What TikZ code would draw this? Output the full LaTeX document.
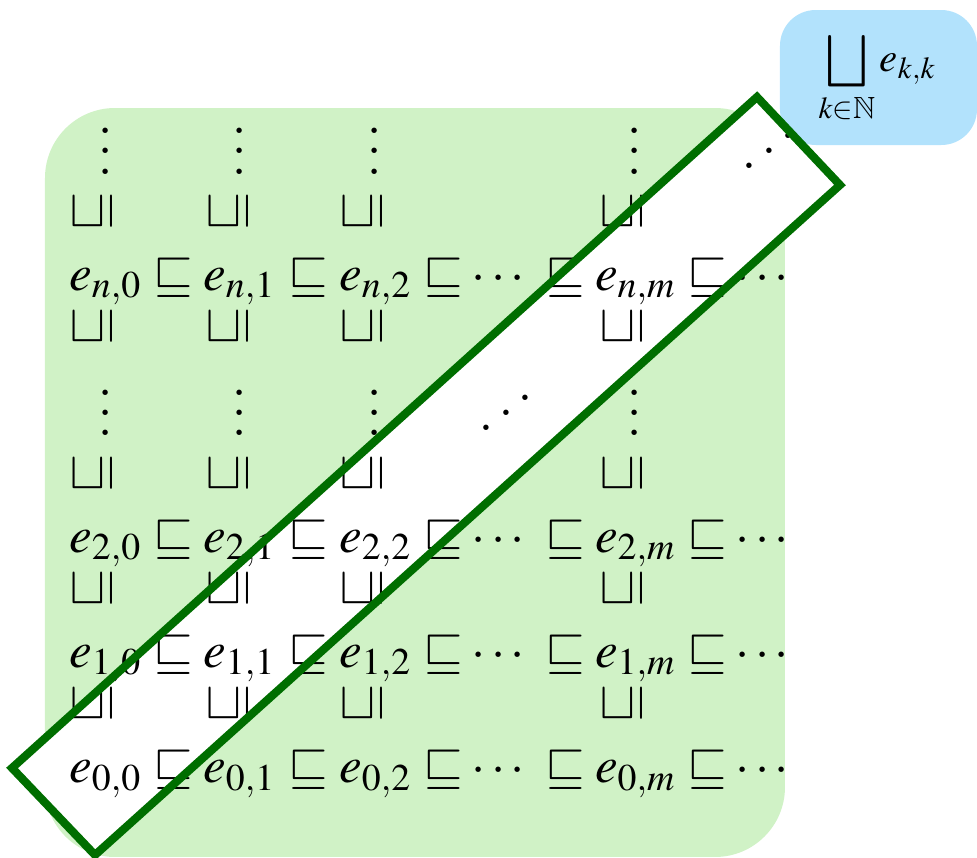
\documentclass[tikz,border=0pt]{standalone}
\usepackage{amsmath}
\usepackage{mathptmx}
\usepackage{amssymb}
\usepackage{tikz}
\definecolor{bgc}{RGB}{208,242,198}
\definecolor{limc}{RGB}{178,226,252}
\definecolor{diagc}{RGB}{0,110,0}
\tikzset{
  elt/.style={anchor=base,inner sep=0pt},
  rel/.style={anchor=base,inner sep=0pt},
  urel/.style={rotate=90,inner sep=0pt},
  dts/.style={anchor=base,inner sep=0pt},
  band/.style={draw=diagc,line width=1.6pt,line join=miter},
}

\begin{document}
\begin{tikzpicture}[x=0.196pt,y=-0.196pt]
  \useasboundingbox (0,0) rectangle (977,858);
  % panels: the chains and their limit
  \fill[bgc,rounded corners=13.7pt] (45,108) rectangle (785,857);
  \fill[limc,rounded corners=7pt] (780,10) rectangle (977,145);
  \node (lim) at (878,78) {\footnotesize$\displaystyle\bigsqcup_{k\in\mathbb{N}} e_{k,k}$};
  % diagonal band, filled below the entries, outlined above them
  \coordinate (b1) at (12,768); \coordinate (b2) at (95,855);
  \coordinate (b3) at (840,185); \coordinate (b4) at (757,97);
  \fill[white] (b1)--(b2)--(b3)--(b4)--cycle;
  % rows e_{i,0} <= e_{i,1} <= ...
  \foreach \ri/\ry in {0/783,1/667,2/552,n/290}{
    \foreach \ci/\cx in {0/106,1/240,2/376,m/636}
      \node[elt] (e-\ri-\ci) at (\cx,\ry) {$e_{\ri,\ci}$};
    \foreach \sx [count=\k] in {173,308,443,565,707}
      \node[rel] (le-\ri-\k) at (\sx,\ry) {$\sqsubseteq$};
    \node[rel] (cd-\ri-a) at (501,\ry) {$\cdots$};
    \node[rel] (cd-\ri-b) at (765,\ry) {$\cdots$};
  }
  % columns, read upwards
  \foreach \ci/\ux/\vx in {0/93/106,1/229/240,2/363/375,m/623/635}{
    \foreach \uy [count=\k] in {212,327,474,589,704}
      \node[urel] (up-\ci-\k) at (\ux,\uy) {$\sqsubseteq$};
    \node[dts] (vd-\ci-a) at (\vx,174) {$\vdots$};
    \node[dts] (vd-\ci-b) at (\vx,436) {$\vdots$};
  }
  \node[dts] (dd-a) at (506,436) {\reflectbox{$\ddots$}};
  \node[dts] (dd-b) at (769,174) {\reflectbox{$\ddots$}};
  \draw[band] (b1)--(b2)--(b3)--(b4)--cycle;
\end{tikzpicture}
\end{document}
